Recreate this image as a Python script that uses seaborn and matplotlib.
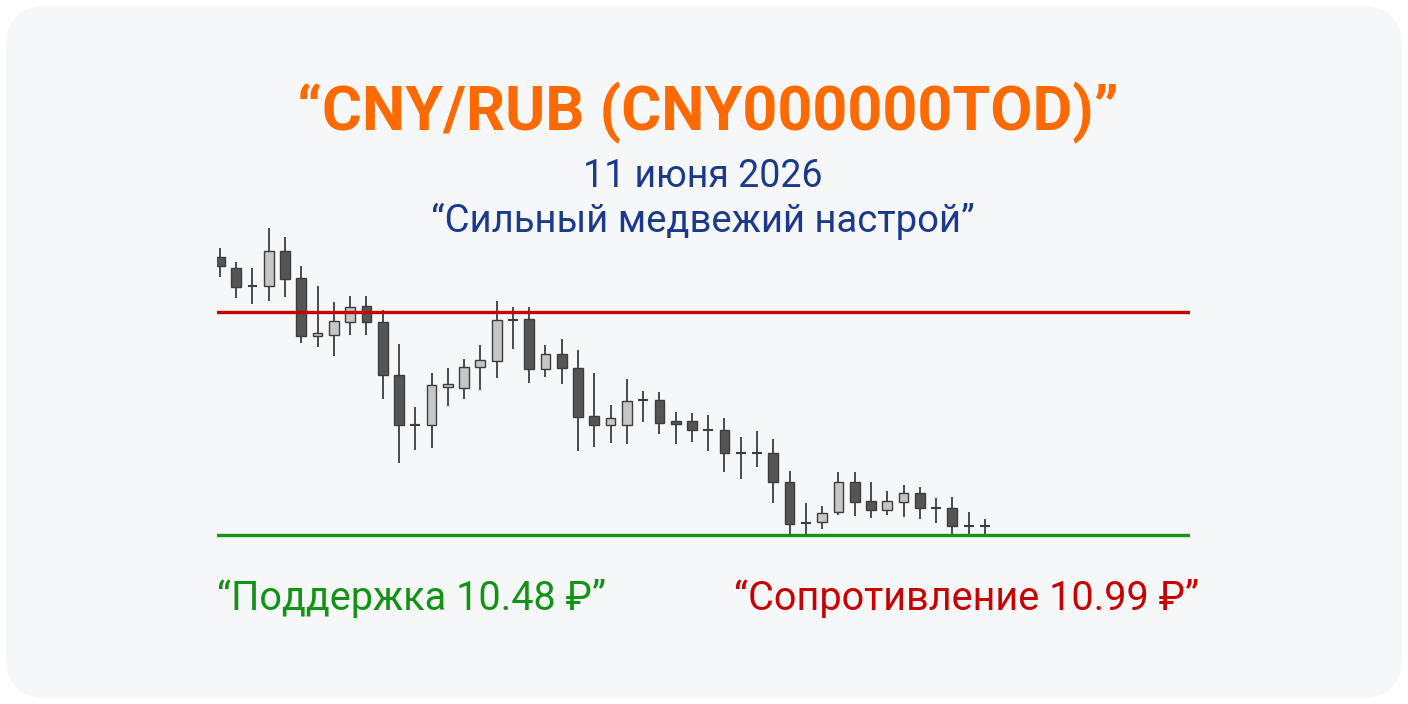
import matplotlib
matplotlib.use("Agg")
import matplotlib.pyplot as plt
from matplotlib.patches import FancyBboxPatch
import seaborn as sns
import pandas as pd
import numpy as np

# ---- data ----
opens = [11.115, 11.091, 11.051, 11.049, 11.130, 11.068, 10.935, 10.937, 10.968, 11.004,
         10.968, 10.845, 10.733, 10.732, 10.818, 10.817, 10.864, 10.879, 10.972, 10.973,
         10.859, 10.894, 10.863, 10.752, 10.731, 10.732, 10.788, 10.788, 10.741, 10.741,
         10.721, 10.721, 10.668, 10.669, 10.669, 10.601, 10.509, 10.510, 10.533, 10.602,
         10.558, 10.539, 10.557, 10.576, 10.542, 10.542, 10.502, 10.501]
closes = [11.095, 11.048, 11.050, 11.130, 11.066, 10.935, 10.941, 10.969, 11.002, 10.968,
          10.845, 10.732, 10.733, 10.823, 10.825, 10.865, 10.880, 10.971, 10.972, 10.859,
          10.894, 10.861, 10.751, 10.731, 10.749, 10.787, 10.788, 10.736, 10.734, 10.720,
          10.721, 10.667, 10.668, 10.669, 10.601, 10.507, 10.509, 10.532, 10.601, 10.557,
          10.539, 10.558, 10.576, 10.542, 10.542, 10.501, 10.502, 10.501]
highs = [11.136, 11.103, 11.090, 11.181, 11.161, 11.094, 11.049, 11.013, 11.027, 11.027,
         10.995, 10.916, 10.774, 10.851, 10.861, 10.882, 10.915, 11.014, 11.001, 11.001,
         10.915, 10.928, 10.903, 10.850, 10.777, 10.836, 10.810, 10.807, 10.761, 10.759,
         10.755, 10.749, 10.704, 10.719, 10.699, 10.628, 10.553, 10.547, 10.624, 10.625,
         10.601, 10.582, 10.594, 10.591, 10.566, 10.567, 10.534, 10.517]
lows = [11.069, 11.021, 11.008, 11.015, 11.024, 10.920, 10.909, 10.890, 10.937, 10.937,
        10.791, 10.646, 10.676, 10.680, 10.775, 10.791, 10.813, 10.839, 10.905, 10.827,
        10.842, 10.826, 10.673, 10.682, 10.690, 10.689, 10.739, 10.711, 10.688, 10.693,
        10.672, 10.625, 10.609, 10.637, 10.555, 10.481, 10.481, 10.494, 10.526, 10.524,
        10.519, 10.527, 10.521, 10.517, 10.509, 10.481, 10.481, 10.483]
support = 10.48
resistance = 10.99

title = "“CNY/RUB (CNY000000TOD)”"
date_text = "11 июня 2026"
mood_text = "“Сильный медвежий настрой”"
support_text = "“Поддержка 10.48 ₽”"
resist_text = "“Сопротивление 10.99 ₽”"

df = pd.DataFrame({"idx": np.arange(len(opens)), "open": opens, "close": closes,
                   "high": highs, "low": lows})

# ---- style ----
sns.set_theme(style="white")
plt.rcParams["font.family"] = ["Roboto", "DejaVu Sans"]

W, H = 1408, 704
fig = plt.figure(figsize=(W / 100, H / 100), dpi=100)
fig.patch.set_facecolor("white")
card = FancyBboxPatch((0.004, 0.008), 0.992, 0.984,
                      boxstyle="round,pad=0,rounding_size=0.03",
                      transform=fig.transFigure, facecolor="#f6f7f9",
                      edgecolor="none", zorder=-10, mutation_aspect=2.0)
fig.patches.append(card)

ax = fig.add_axes([217 / W, 1 - 545 / H, 973 / W, 325 / H])
ax.set_facecolor("none")
ax.set_zorder(5)

dark = "#555555"
light = "#c6c6c6"
edge = "#3d3d3d"
bw = 0.6

bull = df[df["close"] > df["open"] + 0.002]
bear = df[df["open"] > df["close"] + 0.002]
doji = df[(df["close"] - df["open"]).abs() <= 0.002]

lines = pd.DataFrame({"x": [-1, 100, -1, 100],
                      "y": [resistance, resistance, support, support],
                      "kind": ["r", "r", "s", "s"]})
sns.lineplot(data=lines, x="x", y="y", hue="kind",
             palette={"r": "#c80000", "s": "#179317"}, linewidth=2.4,
             legend=False, ax=ax, zorder=4)

ax.vlines(df["idx"], df["low"], df["high"], color=edge, linewidth=1.3, zorder=2)
ax.bar(bull["idx"], bull["close"] - bull["open"], bottom=bull["open"], width=bw,
       color=light, edgecolor=edge, linewidth=1.0, zorder=3)
ax.bar(bear["idx"], bear["open"] - bear["close"], bottom=bear["close"], width=bw,
       color=dark, edgecolor=edge, linewidth=1.0, zorder=3)
ax.hlines(doji["close"], doji["idx"] - bw / 2, doji["idx"] + bw / 2,
          color=edge, linewidth=1.5, zorder=3)

ax.set_xlim(-0.18, 59.6)
ax.set_ylim(10.458, 11.200)
ax.axis("off")

def ftext(x, y, s, **kw):
    fig.text(x / W, 1 - y / H, s, **kw)

ftext(708, 130, title, ha="center", va="baseline", fontsize=44, fontweight="bold",
      color="#ff6a00")
ftext(703, 187, date_text, ha="center", va="baseline", fontsize=27, color="#1c3a8c")
ftext(703, 232, mood_text, ha="center", va="baseline", fontsize=27.5, color="#1c3a8c")
ftext(217, 610, support_text, ha="left", va="baseline", fontsize=28.5, color="#139313")
ftext(1199, 610, resist_text, ha="right", va="baseline", fontsize=28.5, color="#c80000")

fig.savefig("out.png", dpi=100, facecolor=fig.get_facecolor())
